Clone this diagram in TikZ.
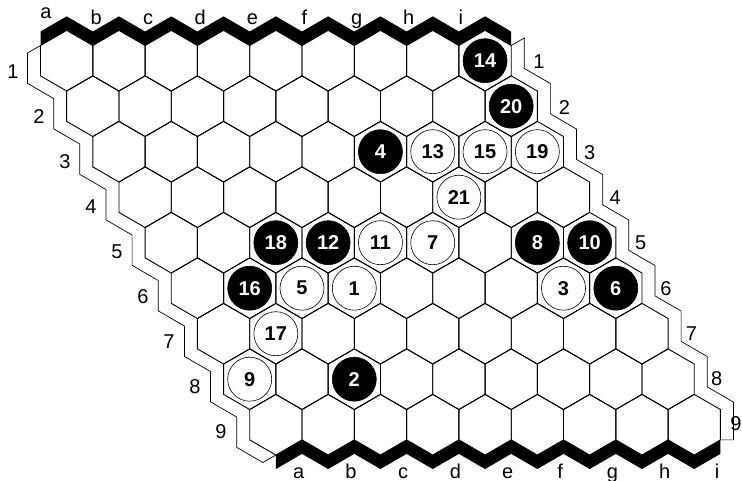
\documentclass[tikz,border=0pt]{standalone}
\usepackage{fontspec}
\setmainfont{Liberation Sans}
\usepackage{tikz}
\usetikzlibrary{calc}

\begin{document}
\begin{tikzpicture}[x=1pt,y=-1pt,
		hexline/.style={draw=black,line width=0.9pt,line join=miter},
		rim/.style={draw=black,line width=0.7pt},
		bstone/.style={circle,fill=black,draw=black,line width=0.6pt,minimum size=44pt,inner sep=0pt,text=white,font=\fontsize{20}{20}\selectfont\bfseries},
		wstone/.style={bstone,fill=white,text=black},
		lbl/.style={font=\fontsize{20}{20}\selectfont,inner sep=0pt}
		]
		\useasboundingbox (0,0) rectangle (742,481);

		% cell centres
		\foreach \r in {1,...,9}{
			\foreach \c in {1,...,9}{
				\coordinate (h\c-\r) at ({66.65+52.3*(\c-1)+26.15*(\r-1)},{60.7+45.5*(\r-1)});
			}
		}

		% cells
		\foreach \r in {1,...,9}{
			\foreach \c in {1,...,9}{
				\draw[hexline] (h\c-\r) ++(0,-30.33) -- ++(26.15,15.17) -- ++(0,30.33) -- ++(-26.15,15.17) -- ++(-26.15,-15.17) -- ++(0,-30.33) -- cycle;
			}
		}

		% black edges
		\fill (h1-1) ++(-26.15,-15.17) \foreach \c in {1,...,9}{ -- ++(26.15,-15.17) -- ++(26.15,15.17) }
		-- ++(0,-14) \foreach \c in {1,...,9}{ -- ++(-26.15,-15.17) -- ++(-26.15,15.17) } -- cycle;
		\fill (h1-9) ++(0,30.33) -- ++(26.15,-15.17) \foreach \c in {2,...,9}{ -- ++(26.15,15.17) -- ++(26.15,-15.17) }
		-- ++(0,14) \foreach \c in {2,...,9}{ -- ++(-26.15,15.17) -- ++(-26.15,-15.17) } -- ++(-26.15,15.17) -- cycle;

		% white edges
		\draw[rim] (h1-1) ++(-26.15,-15.17) -- ++(-13,7.5) \foreach \r in {1,...,9}{ -- ++(0,30.33) -- ++(26.15,15.17) } -- ++(13,-7.5);
		\draw[rim] (h9-1) ++(26.15,-15.17) -- ++(13,-7.5) -- ++(0,30.33) \foreach \r in {2,...,9}{ -- ++(26.15,15.17) -- ++(0,30.33) } -- ++(0,7.5) -- ++(-13,0);

		% stones
		\foreach \n/\c/\r in {14/9/1,20/9/2,4/6/3,18/3/5,12/4/5,8/8/5,10/9/5,16/2/6,6/9/6,2/3/8}
		\node[bstone] (s\n) at (h\c-\r) {\n};
		\foreach \n/\c/\r in {13/7/3,15/8/3,19/9/3,21/7/4,11/5/5,7/6/5,5/3/6,1/4/6,3/8/6,17/2/7,9/1/8}
		\node[wstone] (s\n) at (h\c-\r) {\n};

		% coordinates
		\node[lbl,anchor=base] (ta) at (46,19) {a};
		\foreach \l [count=\k] in {b,c,d,e,f,g,h,i}
		\node[lbl,anchor=base] (t\l) at ({44+52.1*\k},25) {\l};
		\foreach \l [count=\k from 0] in {a,b,c,d,e,f,g,h,i}
		\node[lbl,anchor=base] (b\l) at ({298.6+52.3*\k},478) {\l};
		\foreach \r in {1,...,9}{
			\node[lbl] (l\r) at ({13+26*(\r-1)},{72+45*(\r-1)}) {\r};
		}
		\foreach \r in {1,...,8}{
			\node[lbl] (r\r) at ({539+25.4*(\r-1)},{62+45.3*(\r-1)}) {\r};
		}
		\node[lbl] (r9) at (736,424) {9};
	\end{tikzpicture}
\end{document}
